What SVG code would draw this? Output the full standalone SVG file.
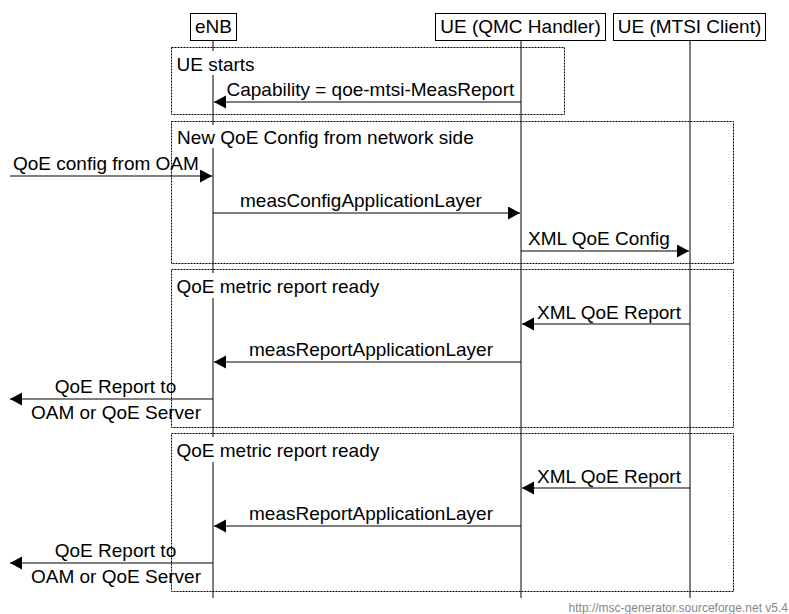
<svg xmlns="http://www.w3.org/2000/svg" width="789" height="614" viewBox="0 0 789 614">
<style>
  text { font-family: "Liberation Sans", Arial, sans-serif; font-size: 19px; fill: #000; }
  .ent { fill: #fff; stroke: #000; stroke-width: 1; }
  .life { stroke: #808080; stroke-width: 2; fill: none; }
  .box { fill: none; stroke: #000; stroke-width: 1; stroke-dasharray: 2,1; }
  .bg { fill: #fff; stroke: none; }
  .msg { stroke: #000; stroke-width: 1; fill: none; marker-end: url(#ah); }
  .foot { font-size: 12px; fill: #888; }
</style>
<defs>
  <marker id="ah" markerUnits="userSpaceOnUse" markerWidth="13" markerHeight="14" refX="12" refY="6.5" orient="auto">
    <path d="M0,0 L12,6.5 L0,13 Z" fill="#000"/>
  </marker>
</defs>
<rect width="789" height="614" fill="#fff"/>

<g id="lifelines">
  <line class="life" x1="213" y1="41" x2="213" y2="598"/>
  <line class="life" x1="521" y1="41" x2="521" y2="598"/>
  <line class="life" x1="690" y1="41" x2="690" y2="598"/>
</g>

<g id="entity-enb">
  <rect class="ent" x="190.5" y="13.5" width="46" height="27"/>
  <text x="213.5" y="33" text-anchor="middle">eNB</text>
</g>
<g id="entity-qmc">
  <rect class="ent" x="435.5" y="13.5" width="170" height="27"/>
  <text x="520.5" y="33" text-anchor="middle">UE (QMC Handler)</text>
</g>
<g id="entity-mtsi">
  <rect class="ent" x="613.5" y="13.5" width="152" height="27"/>
  <text x="689.5" y="33" text-anchor="middle">UE (MTSI Client)</text>
</g>

<g id="box-ue-starts">
  <rect class="box" x="171.5" y="47.5" width="393" height="67"/>
  <rect class="bg" x="175" y="51" width="84" height="24"/>
  <text x="176.5" y="71">UE starts</text>
</g>
<g id="box-new-config">
  <rect class="box" x="171.5" y="121.5" width="562" height="142"/>
  <rect class="bg" x="175" y="125" width="304" height="23"/>
  <text x="177" y="144">New QoE Config from network side</text>
</g>
<g id="box-report-1">
  <rect class="box" x="171.5" y="269.5" width="562" height="158"/>
  <rect class="bg" x="175" y="273" width="208" height="25"/>
  <text x="176.5" y="293">QoE metric report ready</text>
</g>
<g id="box-report-2">
  <rect class="box" x="171.5" y="433.5" width="562" height="158"/>
  <rect class="bg" x="175" y="437" width="208" height="25"/>
  <text x="176.5" y="457">QoE metric report ready</text>
</g>

<g id="connectors">
  <line class="msg" x1="521" y1="102" x2="214" y2="102"/>
  <line class="msg" x1="10" y1="176" x2="212" y2="176"/>
  <line class="msg" x1="213" y1="213" x2="520" y2="213"/>
  <line class="msg" x1="521" y1="251" x2="689" y2="251"/>
  <line class="msg" x1="690" y1="324" x2="522" y2="324"/>
  <line class="msg" x1="521" y1="362" x2="214" y2="362"/>
  <line class="msg" x1="213" y1="399" x2="10" y2="399"/>
  <line class="msg" x1="690" y1="488" x2="522" y2="488"/>
  <line class="msg" x1="521" y1="526" x2="214" y2="526"/>
  <line class="msg" x1="213" y1="563" x2="10" y2="563"/>
</g>

<g id="labels">
  <text x="226.5" y="96">Capability = qoe-mtsi-MeasReport</text>
  <text x="13" y="170">QoE config from OAM</text>
  <text x="240" y="207">measConfigApplicationLayer</text>
  <text x="528" y="245">XML QoE Config</text>
  <text x="537" y="319">XML QoE Report</text>
  <text x="249" y="356">measReportApplicationLayer</text>
  <text x="115.5" y="393" text-anchor="middle">QoE Report to</text>
  <text x="116" y="419" text-anchor="middle">OAM or QoE Server</text>
  <text x="537" y="483">XML QoE Report</text>
  <text x="249" y="520">measReportApplicationLayer</text>
  <text x="115.5" y="557" text-anchor="middle">QoE Report to</text>
  <text x="116" y="583" text-anchor="middle">OAM or QoE Server</text>
</g>

<text class="foot" x="788" y="612" text-anchor="end">http://msc-generator.sourceforge.net v5.4</text>
</svg>
